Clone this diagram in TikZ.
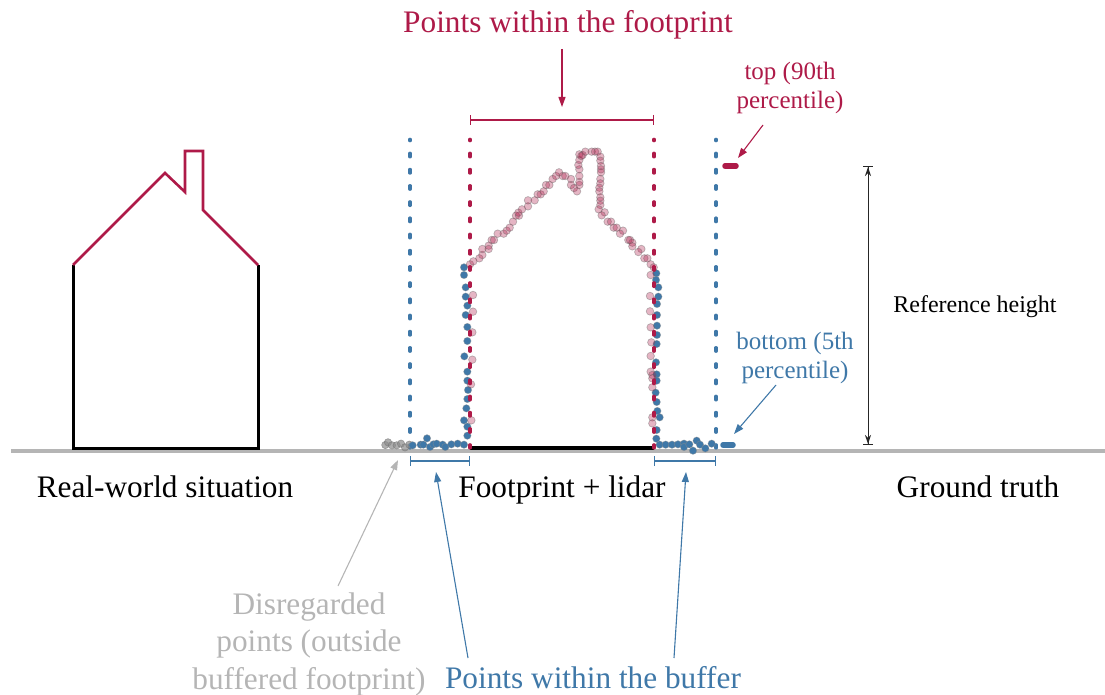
\documentclass[tikz,border=0pt]{standalone}
\usepackage{fontspec}
\setmainfont{Liberation Serif}
\usetikzlibrary{arrows.meta}
\definecolor{crim}{HTML}{AE1A48}
\definecolor{stee}{HTML}{3F78A8}
\definecolor{grnd}{HTML}{B5B5B5}
\tikzset{
  big/.style={font=\fontsize{31.3}{37.5}\selectfont,inner sep=0pt,align=center},
  mid/.style={font=\fontsize{25}{29}\selectfont,inner sep=0pt,align=center},
  small/.style={font=\fontsize{24}{29}\selectfont,inner sep=0pt,align=center},
  lead/.style={line width=1.1pt,-{Triangle[length=10pt,width=7pt]}},
  drop/.style={dash pattern=on 3.7pt off 12.5pt,dash phase=2.3pt,line cap=round,line width=3.2pt},
  bluedot/.style={fill=stee,draw=black!45,draw opacity=.5,line width=.6pt},
  pinkdot/.style={fill=crim,fill opacity=.32,draw=black!60,draw opacity=.42,line width=.7pt},
  greydot/.style={fill=black!45,fill opacity=.7,draw=black!55,draw opacity=.6,line width=.6pt},
  bracket/.style={line width=1.1pt,{Bar[width=10pt,length=0pt]}-{Bar[width=10pt,length=0pt]}},
}
\begin{document}
\begin{tikzpicture}[x=1pt,y=-1pt]
\useasboundingbox (0,0) rectangle (1105,695);
% ground
\draw[grnd,line width=3.4pt] (11,451) -- (1105,451);
% house
\draw[black,line width=3pt,line join=miter] (73,265) -- (73,448) -- (258,448) -- (258,265);
\draw[crim,line width=2.6pt,line join=miter] (73,265) -- (165,173) -- (185,192) -- (185,151) -- (203,151) -- (203,210) -- (258,265);
% footprint
\draw[black,line width=3.2pt] (470,448) -- (654,448);
% buffer lines
\draw[stee,drop] (410,139.3) -- (410,448);
\draw[stee,drop] (716,139.3) -- (716,448);
% grey points
\foreach \a/\b in {46/135,54/127,66/136,80/136,93/131,105/142,118/134}
  \path[greydot] (370+\a/3,400+\b/3) circle (3.7pt);
% blue points, bottom left and left wall
\foreach \a/\b in {128/136,152/134,160/134,171/115,180/141,190/133,200/131,218/134,226/141,244/133,263/131,282/134}
  \path[bluedot] (370+\a/3,400+\b/3) circle (3.7pt);
\foreach \a/\b in {42/22,42/45,47/82,47/110,52/137,47/165,52/201,52/243,43/289,52/335,52/362,54/390,52/417,49/445,42/481,52/500,52/527}
  \path[bluedot] (450+\a/3,260+\b/3) circle (3.7pt);
% blue points, right wall and bottom right
\foreach \a/\b in {79/70,78/90,85/112,85/140,81/162,81/195,81/227,81/255,80/282,78/337,80/373,80/392,77/428,80/456,82/483,89/502,80/540,79/566}
  \path[bluedot] (630+\a/3,250+\b/3) circle (3.7pt);
\foreach \a/\b in {59/134,77/134,96/134,114/133,132/131,132/141,148/133,159/152,170/122,180/134,196/145,215/131}
  \path[bluedot] (640+\a/3,400+\b/3) circle (3.7pt);
% pink points, outline
\foreach \a/\b in {90/403,100/394,118/385,127/375,127/357,146/347,146/357,155/330,162/330,173/311,191/311,200/302,209/293,219/275,228/257,237/257,235/248,246/238,264/229,264/211,284/211,293/193,302/193,311/184,318/165,328/165,338/147,348/138,357/127,368/138,376/138,393/147,393/165,402/174,411/184,418/165,418/156,418/138,418/118,415/105,418/90,418/73,428/75,424/78,436/65,455/65,465/65,473/65,481/80,481/92,483/108,483/118,483/127,481/147,481/160,478/173,478/184,481/202,481/212,481/225,476/238,494/247,485/256,503/275,513/275,521/293,530/293,549/302,540/311,565/330,570/330,577/338,577/349,604/357,595/366,613/385,622/385,632/403,641/412}
  \path[pinkdot] (440+\a/3,130+\b/3) circle (3.8pt);
\foreach \a/\b in {69/105,69/155,67/217,67/299,63/373,64/481}
  \path[pinkdot] (450+\a/3,260+\b/3) circle (3.8pt);
\foreach \a/\b in {62/75,60/138,60/184,62/232,64/277,62/318,62/365,67/375,67/385,67/412,67/502,67/520}
  \path[pinkdot] (630+\a/3,250+\b/3) circle (3.8pt);
% footprint lines
\draw[crim,drop] (470,139.3) -- (470,448);
\draw[crim,drop] (654,139.3) -- (654,448);
% percentile marks
\draw[crim,line width=5.5pt,line cap=round] (725,166) -- (736,166);
\draw[stee,line width=5.5pt,line cap=round] (723,445) -- (733,445);
% labels
\node[big,text=crim,anchor=base] (fp) at (568,33) {Points within the footprint};
\node[mid,text=crim] (top) at (790,88) {top (90th\\percentile)};
\node[small,anchor=base] (ref) at (975,312) {Reference height};
\node[mid,text=stee] (bot) at (795,358) {bottom (5th\\percentile)};
\node[big,anchor=base] (rw) at (165,497) {Real-world situation};
\node[big,anchor=base] (fl) at (562,497) {Footprint + lidar};
\node[big,anchor=base] (gt) at (978,497) {Ground truth};
\node[big,text=grnd] (dis) at (309,644) {Disregarded\\points (outside\\buffered footprint)};
\node[big,text=stee,anchor=base] (buf) at (593,688) {Points within the buffer};
% anchors of the connectors
\coordinate (fpb) at (562,49);
\coordinate (fpt) at (562,107);
\coordinate (brl) at (470,120);
\coordinate (brr) at (654,120);
\coordinate (bl1) at (410,461);
\coordinate (bl2) at (470,461);
\coordinate (br1) at (654,461);
\coordinate (br2) at (716,461);
\coordinate (topm) at (738,158);
\coordinate (botm) at (734,434);
\coordinate (disa) at (338,586);
\coordinate (dist) at (398,460);
\coordinate (bufa) at (468,658);
\coordinate (bufl) at (436,472);
\coordinate (bufb) at (674,658);
\coordinate (bufr) at (686,472);
\coordinate (hup) at (868,166);
\coordinate (hdn) at (868,445);
\coordinate (tops) at (763,125);
\coordinate (bots) at (776,385);
% connectors
\draw[crim,lead] (fpb) -- (fpt);
\draw[crim,bracket] (brl) -- (brr);
\draw[stee,bracket] (bl1) -- (bl2);
\draw[stee,bracket] (br1) -- (br2);
\draw[crim,lead] (tops) -- (topm);
\draw[stee,lead] (bots) -- (botm);
\draw[grnd,lead] (disa) -- (dist);
\draw[stee,lead] (bufa) -- (bufl);
\draw[stee,lead] (bufb) -- (bufr);
\draw[black!85,line width=1pt,{Bar[width=10pt,length=0pt]Stealth[length=9pt,width=6pt]}-{Stealth[length=9pt,width=6pt]Bar[width=10pt,length=0pt]}] (hup) -- (hdn);
\end{tikzpicture}
\end{document}
